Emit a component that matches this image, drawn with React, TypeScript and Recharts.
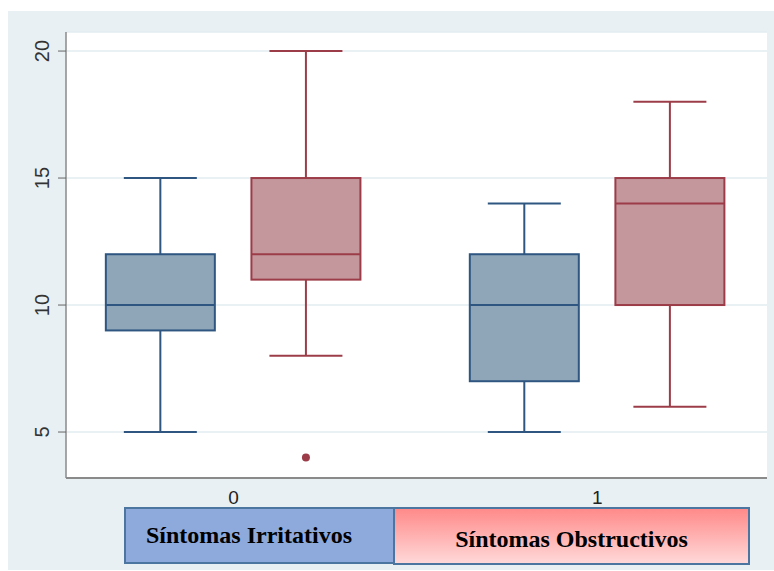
import React from 'react';
import { ComposedChart, Bar, XAxis, YAxis, CartesianGrid } from 'recharts';

// box plot statistics, one entry per category (0, 1)
const categories = [0, 1];
const irritMin = [5, 5];
const irritQ1 = [9, 7];
const irritMedian = [10, 10];
const irritQ3 = [12, 12];
const irritMax = [15, 14];
const irritOutliers: number[][] = [[], []];

const obstMin = [8, 6];
const obstQ1 = [11, 10];
const obstMedian = [12, 14];
const obstQ3 = [15, 15];
const obstMax = [20, 18];
const obstOutliers: number[][] = [[4], []];

const yTicks = [5, 10, 15, 20];

const BLUE = { fill: '#8fa6b9', stroke: '#2e5681' };
const RED = { fill: '#c4979c', stroke: '#9c3c48' };

const rows = categories.flatMap((c, i) => [
  {
    pos: c - 0.2, min: irritMin[i], q1: irritQ1[i], median: irritMedian[i],
    q3: irritQ3[i], max: irritMax[i], outliers: irritOutliers[i], color: BLUE,
  },
  {
    pos: c + 0.2, min: obstMin[i], q1: obstQ1[i], median: obstMedian[i],
    q3: obstQ3[i], max: obstMax[i], outliers: obstOutliers[i], color: RED,
  },
]);

const BoxShape = (props: any) => {
  const { x, y, width, height, payload } = props;
  const top = height < 0 ? y + height : y;
  const h = Math.abs(height);
  const ppu = h / (payload.q3 - payload.q1);
  const cx = x + width / 2;
  const toY = (v: number) => top + (payload.q3 - v) * ppu;
  const cap = 36.5;
  const { fill, stroke } = payload.color;
  return (
    <g>
      <line x1={cx} x2={cx} y1={toY(payload.max)} y2={top} stroke={stroke} strokeWidth={2} />
      <line x1={cx - cap} x2={cx + cap} y1={toY(payload.max)} y2={toY(payload.max)} stroke={stroke} strokeWidth={2} />
      <line x1={cx} x2={cx} y1={top + h} y2={toY(payload.min)} stroke={stroke} strokeWidth={2} />
      <line x1={cx - cap} x2={cx + cap} y1={toY(payload.min)} y2={toY(payload.min)} stroke={stroke} strokeWidth={2} />
      <rect x={x} y={top} width={width} height={h} fill={fill} stroke={stroke} strokeWidth={2} />
      <line x1={x} x2={x + width} y1={toY(payload.median)} y2={toY(payload.median)} stroke={stroke} strokeWidth={2} />
      {payload.outliers.map((o: number, k: number) => (
        <circle key={k} cx={cx} cy={toY(o)} r={4} fill={stroke} />
      ))}
    </g>
  );
};

const YTick = (props: any) => {
  const { x, y, payload } = props;
  const tx = x - 14;
  return (
    <text x={tx} y={y} transform={`rotate(-90 ${tx} ${y})`} textAnchor="middle" dominantBaseline="central"
      fontSize={20} fill="#333" fontFamily="Liberation Sans, Arial, sans-serif">
      {payload.value}
    </text>
  );
};

const XTick = (props: any) => {
  const { x, y, payload } = props;
  return (
    <text x={x} y={y + 18} textAnchor="middle" fontSize={19} fill="#222" fontFamily="Liberation Sans, Arial, sans-serif">
      {payload.value}
    </text>
  );
};

const legendText: React.CSSProperties = {
  fontFamily: '"Liberation Serif", "Times New Roman", serif',
  fontWeight: 'bold',
  fontSize: 24,
  color: '#000',
  position: 'absolute',
  boxSizing: 'border-box',
  border: '2px solid #4c76a0',
  display: 'flex',
  alignItems: 'center',
};

export default function App() {
  return (
    <div style={{ position: 'absolute', left: 8, top: 11, width: 766, height: 559, background: '#e8f0f3' }}>
      <ComposedChart width={766} height={559} data={rows} margin={{ top: 21, right: 7, left: 0, bottom: 62 }}>
        <CartesianGrid vertical={false} fill="#ffffff" stroke="#e3ecf1" strokeWidth={1.5} />
        <XAxis
          type="number"
          dataKey="pos"
          domain={[-0.46, 1.466]}
          ticks={categories}
          allowDataOverflow
          height={30}
          tickLine={false}
          axisLine={{ stroke: '#8a8a8a', strokeWidth: 2 }}
          tick={<XTick />}
        />
        <YAxis
          type="number"
          domain={[3.19, 20.75]}
          ticks={yTicks}
          allowDataOverflow
          width={58}
          tickSize={8}
          tickLine={{ stroke: '#666' }}
          axisLine={{ stroke: '#8a8a8a', strokeWidth: 1.5 }}
          tick={<YTick />}
        />
        <Bar dataKey={(d: any) => [d.q1, d.q3]} barSize={109} shape={<BoxShape />} isAnimationActive={false} />
      </ComposedChart>
      <div style={{ ...legendText, left: 116, top: 496, width: 271, height: 57, background: '#8eaadc', paddingLeft: 20 }}>
        Síntomas Irritativos
      </div>
      <div style={{
        ...legendText, left: 385, top: 496, width: 357, height: 58, justifyContent: 'center', paddingTop: 6,
        background: 'linear-gradient(#ff8a8a, #ffd8d8)',
      }}>
        Síntomas Obstructivos
      </div>
    </div>
  );
}
